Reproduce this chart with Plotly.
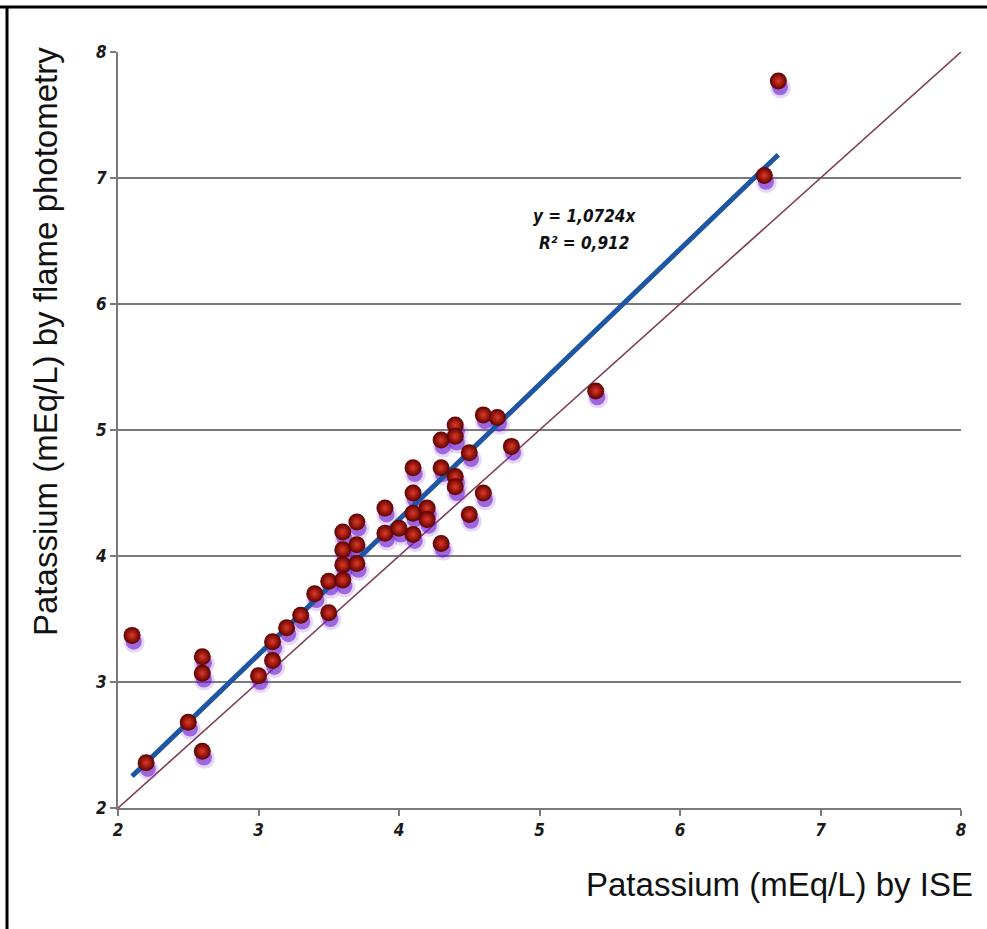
import plotly.graph_objects as go

# Data
ise = [2.1, 2.2, 2.5, 2.6, 2.6, 2.6, 3.0, 3.1, 3.1, 3.2, 3.3, 3.4, 3.5, 3.5,
       3.6, 3.6, 3.6, 3.6, 3.7, 3.7, 3.7, 3.9, 3.9, 4.0, 4.1, 4.1, 4.1, 4.1,
       4.2, 4.2, 4.3, 4.3, 4.3, 4.4, 4.4, 4.4, 4.4, 4.5, 4.5, 4.6, 4.6, 4.7,
       4.8, 5.4, 6.6, 6.7]
flame = [3.37, 2.36, 2.68, 3.20, 3.07, 2.45, 3.05, 3.32, 3.17, 3.43, 3.53, 3.70, 3.80, 3.55,
         4.19, 4.05, 3.93, 3.81, 4.27, 4.09, 3.94, 4.38, 4.18, 4.22, 4.70, 4.50, 4.34, 4.17,
         4.38, 4.29, 4.92, 4.70, 4.10, 5.04, 4.95, 4.63, 4.55, 4.82, 4.33, 5.12, 4.50, 5.10,
         4.87, 5.31, 7.02, 7.77]
slope = 1.0724
r2 = 0.912
tick_vals = [2, 3, 4, 5, 6, 7, 8]
x_title = "Patassium (mEq/L) by ISE"
y_title = "Patassium (mEq/L) by flame photometry"

W, H = 987, 929
L, R, T, B = 118, 26, 52, 121
pw, ph = W - L - R, H - T - B

def px(xp):
    return (xp - L) / pw

def py(yp):
    return (H - B - yp) / ph

fig = go.Figure()

# identity line
fig.add_trace(go.Scatter(x=[tick_vals[0], tick_vals[-1]], y=[tick_vals[0], tick_vals[-1]],
                         mode="lines", line=dict(color="#7e3b55", width=1.6),
                         hoverinfo="skip", showlegend=False))

# marker shadows (derived from data)
fig.add_trace(go.Scatter(x=[v + 0.015 for v in ise], y=[v - 0.055 for v in flame],
                         mode="markers",
                         marker=dict(size=21, color="rgba(150,70,235,0.22)", line=dict(width=0)),
                         hoverinfo="skip", showlegend=False))
fig.add_trace(go.Scatter(x=[v + 0.012 for v in ise], y=[v - 0.05 for v in flame],
                         mode="markers",
                         marker=dict(size=16, color="rgba(95,15,200,0.55)", line=dict(width=0)),
                         hoverinfo="skip", showlegend=False))

# trendline
xmin, xmax = min(ise), max(ise)
fig.add_trace(go.Scatter(x=[xmin, xmax], y=[slope * xmin, slope * xmax],
                         mode="lines", line=dict(color="#1f56a3", width=5),
                         hoverinfo="skip", showlegend=False))

# points
fig.add_trace(go.Scatter(x=ise, y=flame, mode="markers",
                         marker=dict(size=17, color="#5c0000",
                                     gradient=dict(type="radial", color="#e03a26"),
                                     line=dict(width=0)),
                         showlegend=False))

tickfont = dict(family="DejaVu Sans Condensed, Liberation Sans Narrow, Arial",
                size=17, color="#1a1a1a", weight="bold", style="italic")

fig.update_xaxes(range=[2, 8], tickvals=tick_vals, showgrid=False, zeroline=False,
                 showline=True, linecolor="#7a7a7a", linewidth=2,
                 ticks="outside", ticklen=6, tickcolor="#7a7a7a", tickwidth=2,
                 tickfont=tickfont)
fig.update_yaxes(range=[2, 8], tickvals=tick_vals, showgrid=True, gridcolor="#7a7a7a",
                 gridwidth=1.5, zeroline=False,
                 showline=True, linecolor="#7a7a7a", linewidth=2,
                 ticks="outside", ticklen=6, tickcolor="#7a7a7a", tickwidth=2,
                 tickfont=tickfont)

eqfont = dict(family="DejaVu Sans Condensed, Liberation Sans Narrow, Arial",
              size=17, color="#111111", weight="bold", style="italic")
annots = [
    dict(text=y_title, xref="paper", yref="paper", x=px(45), y=py(342),
         xanchor="center", yanchor="middle", textangle=-90, showarrow=False,
         font=dict(family="Liberation Sans, Arial", size=33, color="#111111")),
    dict(text=x_title, xref="paper", yref="paper", x=px(975), y=py(884),
         xanchor="right", yanchor="middle", showarrow=False,
         font=dict(family="Liberation Sans, Arial", size=33, color="#111111")),
    dict(text=f"y = {str(slope).replace('.', ',')}x",
         xref="paper", yref="paper", x=px(584), y=py(216),
         xanchor="center", yanchor="middle", showarrow=False, font=eqfont),
    dict(text=f"R² = {str(r2).replace('.', ',')}",
         xref="paper", yref="paper", x=px(584), y=py(243),
         xanchor="center", yanchor="middle", showarrow=False, font=eqfont),
]

shapes = [
    dict(type="line", xref="paper", yref="paper", x0=px(0), x1=px(W + 5), y0=py(7), y1=py(7),
         line=dict(color="black", width=3)),
    dict(type="line", xref="paper", yref="paper", x0=px(7), x1=px(7), y0=py(7), y1=py(H + 5),
         line=dict(color="black", width=3)),
]

fig.update_layout(width=W, height=H, margin=dict(l=L, r=R, t=T, b=B),
                  paper_bgcolor="white", plot_bgcolor="white",
                  annotations=annots, shapes=shapes, showlegend=False)

fig.write_html("out.html", config={"displayModeBar": False},
               post_script="document.body.style.margin='0';document.body.style.overflow='hidden';")
